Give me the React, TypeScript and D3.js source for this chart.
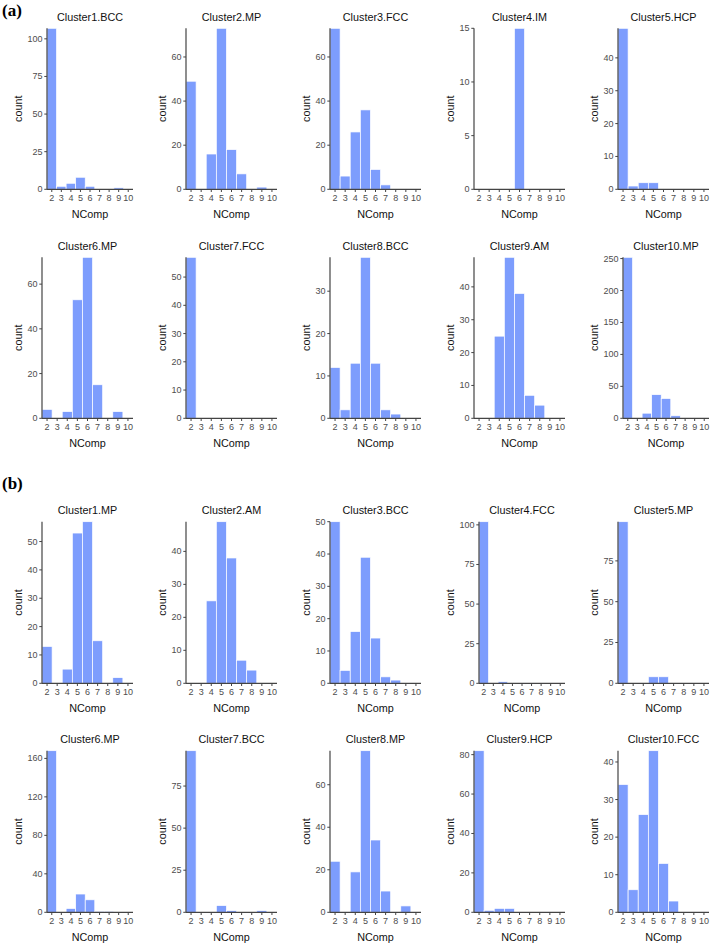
import React from "react";
import * as d3 from "d3";

// ---- data ----
const nComp = [2, 3, 4, 5, 6, 7, 8, 9, 10];

const titlesA = [
  "Cluster1.BCC", "Cluster2.MP", "Cluster3.FCC", "Cluster4.IM", "Cluster5.HCP",
  "Cluster6.MP", "Cluster7.FCC", "Cluster8.BCC", "Cluster9.AM", "Cluster10.MP",
];
const titlesB = [
  "Cluster1.MP", "Cluster2.AM", "Cluster3.BCC", "Cluster4.FCC", "Cluster5.MP",
  "Cluster6.MP", "Cluster7.BCC", "Cluster8.MP", "Cluster9.HCP", "Cluster10.FCC",
];

// counts for NComp = 2..10
const countsA = [
  [107, 2, 4, 8, 2, 0, 0, 1, 0],
  [49, 0, 16, 73, 18, 7, 0, 1, 0],
  [73, 6, 26, 36, 9, 2, 0, 0, 0],
  [0, 0, 0, 0, 15, 0, 0, 0, 0],
  [49, 1, 2, 2, 0, 0, 0, 0, 0],
  [4, 0, 3, 53, 72, 15, 0, 3, 0],
  [57, 0, 0, 0, 0, 0, 0, 0, 0],
  [12, 2, 13, 38, 13, 2, 1, 0, 0],
  [0, 0, 25, 49, 38, 7, 4, 0, 0],
  [252, 0, 8, 37, 31, 4, 0, 0, 0],
];
const countsB = [
  [13, 0, 5, 53, 57, 15, 0, 2, 0],
  [0, 0, 25, 49, 38, 7, 4, 0, 0],
  [50, 4, 16, 39, 14, 2, 1, 0, 0],
  [102, 0, 1, 0, 0, 0, 0, 0, 0],
  [99, 0, 0, 4, 4, 0, 0, 0, 0],
  [168, 0, 4, 19, 13, 1, 1, 0, 0],
  [96, 0, 0, 4, 1, 0, 0, 1, 0],
  [24, 0, 19, 76, 34, 10, 0, 3, 0],
  [82, 1, 2, 2, 0, 0, 0, 0, 0],
  [34, 6, 26, 43, 13, 3, 0, 0, 0],
];

const ticksA = [
  [0, 25, 50, 75, 100],
  [0, 20, 40, 60],
  [0, 20, 40, 60],
  [0, 5, 10, 15],
  [0, 10, 20, 30, 40],
  [0, 20, 40, 60],
  [0, 10, 20, 30, 40, 50],
  [0, 10, 20, 30],
  [0, 10, 20, 30, 40],
  [0, 50, 100, 150, 200, 250],
];
const ticksB = [
  [0, 10, 20, 30, 40, 50],
  [0, 10, 20, 30, 40],
  [0, 10, 20, 30, 40, 50],
  [0, 25, 50, 75, 100],
  [0, 25, 50, 75],
  [0, 40, 80, 120, 160],
  [0, 25, 50, 75],
  [0, 20, 40, 60],
  [0, 20, 40, 60, 80],
  [0, 10, 20, 30, 40],
];

const groupLabels = ["(a)", "(b)"];

// ---- layout ----
const W = 711;
const H = 944;
const rowTops = [28.3, 257.3, 521.7, 750.7];
const rowBottoms = [189.3, 418.3, 683.3, 912.3];
const groupLabelY = [15.5, 489];
const FONT = "'Liberation Sans', Arial, Helvetica, sans-serif";
const BAR = "#7d9dfd";
const AXIS = "#444444";
const TICKTXT = "#4d4d4d";

type PanelProps = {
  title: string;
  counts: number[];
  ticks: number[];
  col: number;
  top: number;
  bottom: number;
};

function Panel({ title, counts, ticks, col, top, bottom }: PanelProps) {
  const countX = 18 + 144 * col;
  const labelW = (d3.max(ticks, (t) => String(t).length) as number) * 5;
  const left = countX + 14 + labelW;
  const right = 133 + 144 * col;
  const x = d3.scaleLinear().domain([1.5, 10.5]).range([left, right]);
  const y = d3
    .scaleLinear()
    .domain([0, d3.max(counts) as number])
    .range([bottom, top]);
  const cx = (left + right) / 2;

  return (
    <g>
      {nComp.map((n, i) => {
        const v = counts[i];
        if (!v) return null;
        return (
          <rect
            key={n}
            x={x(n - 0.5)}
            width={x(n + 0.5) - x(n - 0.5)}
            y={y(v)}
            height={y(0) - y(v)}
            fill={BAR}
            stroke="#ffffff"
            strokeWidth={0.7}
          />
        );
      })}
      <line x1={left} x2={left} y1={top} y2={bottom} stroke={AXIS} strokeWidth={1.2} />
      <line x1={left} x2={right} y1={bottom} y2={bottom} stroke={AXIS} strokeWidth={1.2} />
      {ticks.map((t) => (
        <g key={"y" + t}>
          <line x1={left - 2.7} x2={left} y1={y(t)} y2={y(t)} stroke={AXIS} strokeWidth={1} />
          <text
            x={left - 4.5}
            y={y(t)}
            textAnchor="end"
            dominantBaseline="central"
            fontSize={9}
            fill={TICKTXT}
            fontFamily={FONT}
          >
            {t}
          </text>
        </g>
      ))}
      {nComp.map((n) => (
        <g key={"x" + n}>
          <line x1={x(n)} x2={x(n)} y1={bottom} y2={bottom + 2.7} stroke={AXIS} strokeWidth={1} />
          <text
            x={x(n)}
            y={bottom + 8.6}
            textAnchor="middle"
            dominantBaseline="central"
            fontSize={9}
            fill={TICKTXT}
            fontFamily={FONT}
          >
            {n}
          </text>
        </g>
      ))}
      <text
        x={cx}
        y={top - 11.5}
        textAnchor="middle"
        dominantBaseline="central"
        fontSize={10.8}
        fill="#111"
        fontFamily={FONT}
      >
        {title}
      </text>
      <text
        x={cx}
        y={bottom + 24.4}
        textAnchor="middle"
        dominantBaseline="central"
        fontSize={10.8}
        fill="#111"
        fontFamily={FONT}
      >
        NComp
      </text>
      <text
        transform={`translate(${countX},${(top + bottom) / 2}) rotate(-90)`}
        textAnchor="middle"
        dominantBaseline="central"
        fontSize={10.8}
        fill="#111"
        fontFamily={FONT}
      >
        count
      </text>
    </g>
  );
}

export default function App() {
  const groups = [
    { titles: titlesA, counts: countsA, ticks: ticksA },
    { titles: titlesB, counts: countsB, ticks: ticksB },
  ];
  return (
    <svg
      width={W}
      height={H}
      viewBox={`0 0 ${W} ${H}`}
      style={{ position: "absolute", left: 0, top: 0, background: "#fff" }}
    >
      <rect width={W} height={H} fill="#fff" />
      {groups.map((g, gi) => (
        <g key={gi}>
          <text
            x={2}
            y={groupLabelY[gi]}
            fontSize={17}
            fontWeight="bold"
            fontFamily="'Liberation Serif', 'Times New Roman', serif"
            fill="#000"
          >
            {groupLabels[gi]}
          </text>
          {g.titles.map((t, i) => {
            const row = gi * 2 + Math.floor(i / 5);
            return (
              <Panel
                key={t + i}
                title={t}
                counts={g.counts[i]}
                ticks={g.ticks[i]}
                col={i % 5}
                top={rowTops[row]}
                bottom={rowBottoms[row]}
              />
            );
          })}
        </g>
      ))}
    </svg>
  );
}
